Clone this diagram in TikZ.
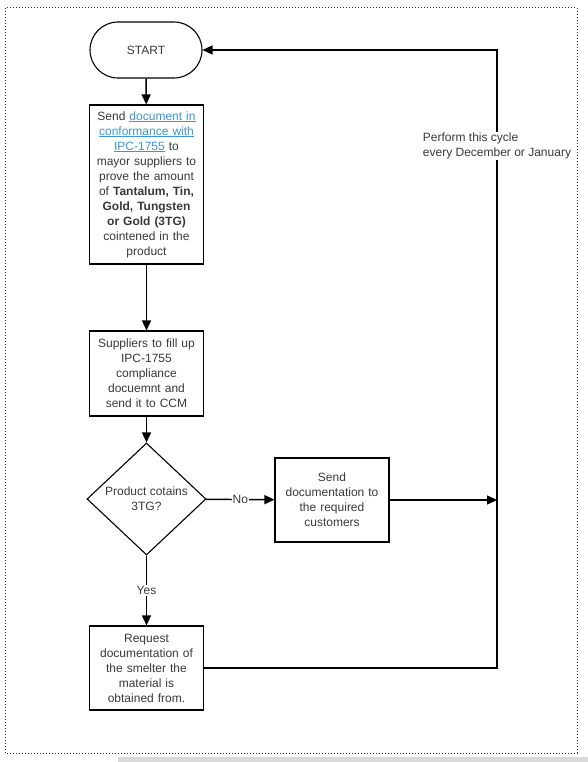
\documentclass[tikz,border=0pt]{standalone}
\usepackage{fontspec}
\setmainfont{Liberation Sans}
\usetikzlibrary{arrows.meta,shapes.geometric}

\definecolor{txtgray}{HTML}{383838}
\definecolor{linkblue}{HTML}{3D95D3}
\newcommand{\doclink}[1]{\textcolor{linkblue}{\underline{#1}}}

\begin{document}
\begin{tikzpicture}[x=1pt,y=-1pt,
        font=\fontsize{12}{15}\selectfont, text=txtgray,
        stepbox/.style={draw=black, line width=1.1pt, align=center, inner sep=2pt,
            minimum width=113pt, text width=110pt},
        flow/.style={line width=1.4pt, -{Triangle[length=10pt,width=9pt]}},
        tag/.style={fill=white, inner sep=1pt}]
            \useasboundingbox (0,0) rectangle (588,762);
            \fill[gray!30] (118,757) rectangle (588,762);
            \draw[dotted, line width=1pt, black!85] (5,8) rectangle (577,753);
            \node[draw=black, line width=1.1pt, rounded corners=28pt, minimum width=112pt,
                minimum height=56pt] (start) at (146,50) {START};
            \node[stepbox, minimum height=159pt] (send) at (146.5,184.5)
                {Send \doclink{document in}\\ \doclink{conformance with}\\
                 \doclink{IPC-1755} to\\ mayor suppliers to\\ prove the amount\\
                 of \textbf{Tantalum, Tin,}\\ \textbf{Gold, Tungsten}\\
                 \textbf{or Gold (3TG)}\\ cointened in the\\ product};
            \node[stepbox, minimum height=85pt] (fill) at (146.5,373.5)
                {Suppliers to fill up\\ IPC-1755\\ compliance\\ docuemnt and\\ send it to CCM};
            \node[draw=black, line width=1.1pt, diamond, minimum width=119pt, minimum height=112pt,
                inner sep=0pt, label={[align=center]center:Product cotains\\3TG?}] (check) at (146.5,499) {};
            \node[stepbox, minimum height=84pt] (customers) at (332,500)
                {Send\\ documentation to\\ the required\\ customers};
            \node[stepbox, minimum height=84pt] (smelter) at (146.5,668)
                {Request\\ documentation of\\ the smelter the\\ material is\\ obtained from.};
            \coordinate (cycle) at (497,50);
            \coordinate (join) at (497,500);
            \draw[flow] (start) -- (send);
            \draw[flow] (send) -- (fill);
            \draw[flow] (fill) -- (check);
            \draw[flow] (check) -- node[tag] (no) {No} (customers);
            \draw[flow] (check) -- node[tag] (yes) {Yes} (smelter);
            \draw[flow] (customers) -- (join);
            \draw[flow] (smelter.east) -- (smelter.east -| cycle) -- (cycle) -- (start.east);
            \node[tag, align=left] (note) at (497,146) {Perform this cycle\\ every December or January};
        \end{tikzpicture}
\end{document}
